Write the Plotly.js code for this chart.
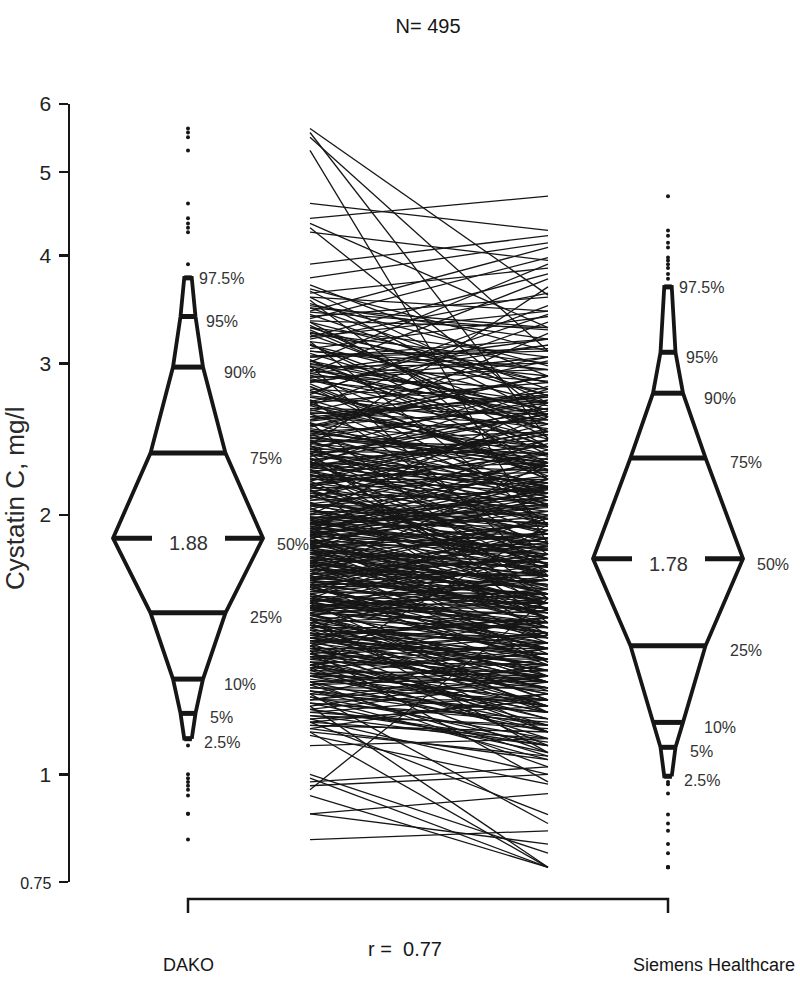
<!DOCTYPE html>
<html>
<head>
<meta charset="utf-8">
<script src="https://cdn.plot.ly/plotly-3.0.1.min.js"></script>
<style>
  html, body { margin: 0; padding: 0; background: #fff; }
  #chart { width: 800px; height: 988px; }
</style>
</head>
<body>
<div id="chart"></div>
<script>
// Paired cystatin C values (mg/l), one entry per subject (495), DAKO vs Siemens
const dako = [
  5.62, 5.56, 5.49, 5.30, 4.60, 4.42, 4.36, 4.31, 4.26, 3.91,
  3.77, 3.70, 3.62, 3.55, 3.50, 3.45, 3.42,
  3.38, 3.35, 3.30, 3.26, 3.22, 3.18, 3.15, 3.12, 3.08, 3.05, 3.03, 3.01, 3.00, 2.98, 2.97,
  3.66, 3.58, 3.48, 3.36, 3.28, 3.20, 3.10, 3.02, 2.94, 2.86,
  2.79, 2.71, 2.63, 2.54, 2.46, 3.64, 3.40, 3.16, 2.92, 2.68,
  3.52, 3.32, 3.06, 2.84, 2.60, 3.44, 3.24, 2.99, 2.77, 2.52,
  2.95, 2.93, 2.91, 2.89, 2.87, 2.85, 2.82, 2.80, 2.78, 2.76,
  2.74, 2.72, 2.70, 2.68, 2.66, 2.64, 2.62, 2.60, 2.58, 2.56,
  2.55, 2.53, 2.51, 2.50, 2.48, 2.47, 2.46, 2.45, 2.44, 2.43,
  2.42, 2.41, 2.40, 2.40, 2.39, 2.38, 2.38, 2.37, 2.37, 2.36,
  2.88, 2.70, 2.57, 2.49, 2.41,
  2.35, 2.34, 2.33, 2.32, 2.31, 2.30, 2.30, 2.29, 2.28, 2.27,
  2.26, 2.25, 2.25, 2.24, 2.23, 2.22, 2.21, 2.20, 2.20, 2.19,
  2.18, 2.17, 2.16, 2.15, 2.15, 2.14, 2.13, 2.12, 2.11, 2.10,
  2.10, 2.09, 2.08, 2.07, 2.06, 2.05, 2.05, 2.04, 2.03, 2.02,
  2.01, 2.00, 2.00, 1.99, 1.99, 1.98, 1.97, 1.97, 1.96, 1.95,
  1.95, 1.94, 1.94, 1.93, 1.93, 1.92, 1.92, 1.91, 1.91, 1.90,
  1.90, 1.90, 1.89, 1.89, 1.89, 1.88, 2.28, 2.17, 2.06, 1.98,
  2.33, 2.22, 2.12, 2.03, 1.96,
  1.87, 1.87, 1.86, 1.86, 1.85, 1.85, 1.84, 1.84, 1.83, 1.83,
  1.82, 1.81, 1.81, 1.80, 1.80, 1.79, 1.78, 1.78, 1.77, 1.76,
  1.76, 1.75, 1.74, 1.74, 1.73, 1.72, 1.72, 1.71, 1.70, 1.70,
  1.69, 1.68, 1.68, 1.67, 1.66, 1.66, 1.65, 1.64, 1.64, 1.63,
  1.62, 1.62, 1.61, 1.60, 1.60, 1.59, 1.59, 1.58, 1.58, 1.57,
  1.57, 1.56, 1.56, 1.56, 1.55, 1.55, 1.55, 1.54, 1.54, 1.54,
  1.87, 1.85, 1.83, 1.79, 1.75, 1.71, 1.67, 1.63, 1.60, 1.57,
  1.82, 1.77, 1.69, 1.65, 1.58,
  1.53, 1.53, 1.52, 1.51, 1.51, 1.50, 1.49, 1.49, 1.48, 1.47,
  1.46, 1.46, 1.45, 1.44, 1.44, 1.43, 1.42, 1.42, 1.41, 1.40,
  1.40, 1.39, 1.38, 1.38, 1.37, 1.36, 1.36, 1.35, 1.35, 1.34,
  1.34, 1.33, 1.33, 1.32, 1.32, 1.31, 1.31, 1.30, 1.30, 1.30,
  1.52, 1.47, 1.43, 1.39, 1.35,
  1.12, 1.15, 1.19, 1.22, 1.25, 1.28, 1.31, 1.34, 1.37, 1.41,
  1.45, 1.48, 1.16, 1.21, 1.27, 1.33, 1.39, 1.44, 1.50, 1.13,
  1.29, 1.28, 1.28, 1.27, 1.26, 1.25, 1.24, 1.24, 1.23, 1.22, 1.21, 1.20, 1.20, 1.19, 1.18,
  1.17, 1.16, 1.15, 1.14, 1.13, 1.12, 1.11,
  1.08, 1.00, 0.99, 0.98, 0.97, 0.96, 0.945, 0.90, 0.90, 0.84,
  2.02, 2.08, 2.14, 2.19, 2.24, 2.29, 2.34, 2.39, 2.44, 2.50,
  2.56, 2.62, 2.69, 2.75, 2.82, 2.90, 2.05, 2.11, 2.17, 2.23,
  2.31, 2.43, 2.58, 2.72, 2.86, 2.13, 2.27, 2.37, 2.47, 2.65,
  1.61, 1.63, 1.65, 1.67, 1.69, 1.71, 1.73, 1.75, 1.77, 1.79,
  1.81, 1.83, 1.85, 1.87, 1.89, 1.91, 1.93, 1.95, 1.97, 1.99,
  1.62, 1.66, 1.70, 1.74, 1.78, 1.82, 1.86, 1.90, 1.94, 1.98,
  1.64, 1.68, 1.72, 1.76, 1.80, 1.84, 1.88, 1.92, 1.96, 1.60,
  1.31, 1.33, 1.35, 1.37, 1.39, 1.41, 1.43, 1.45, 1.47, 1.49,
  1.51, 1.53, 1.55, 1.57, 1.59, 1.32, 1.36, 1.40, 1.44, 1.48,
  1.52, 1.56, 1.34, 1.38, 1.42, 1.46, 1.50, 1.54, 1.58, 1.30,
  1.37, 1.43, 1.49, 1.55, 1.61,
  1.15, 1.18, 1.21, 1.24, 1.27, 2.95, 3.05, 3.15, 3.25, 3.35,
  3.48, 3.58, 1.17, 1.23, 1.26, 2.98, 3.10, 3.22, 3.30, 1.19,
  1.25, 2.92, 3.02, 3.18, 1.14, 1.22,
  2.26, 2.36, 2.46, 2.54, 1.84, 1.76, 1.68, 2.16, 2.06, 1.96
];
const siemens = [
  3.60, 2.45, 3.10, 1.85, 4.28, 4.69, 3.30, 2.60, 3.95, 4.22,
  4.14, 2.90, 3.87, 2.20, 3.20, 4.09, 2.75,
  3.98, 2.40, 3.05, 2.85, 3.81, 1.95, 2.70, 3.40, 2.55, 3.10, 2.30, 3.91, 2.65, 1.70, 3.00,
  3.10, 3.45, 2.80, 3.30, 2.50, 3.62, 2.95, 2.40, 3.20, 2.68,
  2.25, 3.05, 2.55, 2.90, 2.15, 2.70, 3.58, 2.35, 2.62, 3.35,
  2.98, 2.46, 3.12, 2.20, 2.76, 3.28, 2.58, 2.86, 3.42, 2.30,
  2.60, 3.76, 2.20, 2.95, 2.45, 3.15, 2.05, 2.70, 2.38, 3.50,
  2.52, 1.80, 2.85, 2.30, 2.62, 3.02, 2.15, 2.48, 2.78, 1.60,
  2.40, 2.90, 2.25, 2.58, 2.10, 3.25, 2.35, 2.72, 1.98, 2.50,
  2.28, 3.68, 2.18, 2.64, 1.90, 2.44, 2.82, 2.12, 2.36, 1.50,
  2.55, 2.05, 2.75, 2.32, 1.75,
  2.10, 2.62, 1.85, 2.40, 1.72, 2.25, 2.05, 2.80, 1.95, 2.15,
  1.60, 2.30, 2.00, 2.48, 1.78, 2.12, 1.90, 2.55, 2.20, 1.68,
  2.02, 2.35, 1.82, 2.18, 1.98, 1.45, 2.28, 2.08, 1.75, 2.42,
  1.92, 2.60, 2.14, 1.70, 2.22, 1.88, 2.05, 1.58, 2.38, 2.00,
  1.84, 2.16, 2.70, 1.65, 1.96, 2.26, 1.80, 2.10, 1.52, 2.33,
  1.94, 2.06, 1.76, 2.45, 1.86, 2.20, 1.62, 1.99, 2.30, 1.74,
  2.08, 1.90, 1.35, 2.18, 1.83, 2.02, 2.50, 1.70, 1.95, 2.12,
  1.55, 2.24, 1.87, 1.78, 2.04,
  1.80, 1.55, 2.05, 1.72, 1.62, 1.95, 1.48, 1.85, 1.70, 2.20,
  1.58, 1.76, 1.42, 1.90, 1.66, 1.52, 2.10, 1.74, 1.60, 1.38,
  1.82, 1.68, 1.50, 1.98, 1.64, 1.78, 1.44, 1.70, 2.30, 1.56,
  1.62, 1.88, 1.46, 1.72, 1.54, 1.30, 1.66, 1.92, 1.48, 1.60,
  1.75, 1.40, 1.58, 2.00, 1.52, 1.68, 1.36, 1.84, 1.50, 1.62,
  1.28, 1.72, 1.46, 1.56, 1.80, 1.42, 1.64, 1.50, 1.25, 1.70,
  1.58, 2.15, 1.44, 1.66, 1.54, 1.78, 1.34, 1.62, 1.48, 1.58,
  1.70, 1.52, 1.86, 1.40, 1.18,
  1.40, 1.62, 1.30, 1.48, 1.22, 1.55, 1.36, 1.28, 1.75, 1.42,
  1.18, 1.38, 1.50, 1.26, 1.34, 1.45, 1.12, 1.32, 1.58, 1.24,
  1.40, 1.30, 1.46, 1.16, 1.36, 1.28, 1.52, 1.20, 1.34, 1.42,
  1.10, 1.26, 1.38, 1.30, 1.95, 1.22, 1.32, 1.14, 1.40, 1.28,
  1.06, 1.44, 1.20, 0.98, 1.34,
  1.05, 1.22, 1.09, 1.30, 1.14, 1.02, 1.25, 1.18, 1.45, 1.08,
  1.32, 1.20, 1.00, 1.16, 1.36, 1.06, 1.28, 1.52, 1.12, 1.24,
  1.20, 1.32, 1.12, 1.05, 1.26, 1.18, 0.877, 1.40, 1.10, 1.22, 1.15, 0.78, 1.30, 1.08, 1.13,
  1.08, 1.20, 0.898, 1.12, 1.04, 0.78, 0.974,
  1.10, 0.81, 0.78, 1.02, 1.00, 1.60, 0.78, 0.83, 0.95, 0.86,
  1.88, 2.30, 1.75, 2.52, 2.05, 2.18, 2.66, 1.95, 2.40, 2.28,
  2.12, 2.74, 2.35, 2.58, 2.22, 2.80, 2.15, 1.70, 2.44, 1.98,
  2.62, 2.08, 2.90, 2.26, 3.05, 1.82, 2.50, 2.16, 2.70, 2.34,
  1.50, 1.78, 1.44, 1.62, 1.92, 1.56, 1.70, 1.35, 1.84, 1.66,
  1.58, 1.96, 1.72, 1.48, 2.10, 1.80, 1.64, 2.02, 1.74, 1.86,
  1.40, 1.68, 1.54, 1.88, 1.60, 1.76, 2.06, 1.52, 1.82, 1.70,
  1.46, 1.58, 1.98, 1.64, 1.74, 1.90, 1.62, 2.14, 1.78, 1.42,
  1.22, 1.38, 1.16, 1.30, 1.46, 1.26, 1.34, 1.52, 1.20, 1.40,
  1.60, 1.32, 1.44, 1.28, 1.56, 1.12, 1.42, 1.24, 1.36, 1.48,
  1.30, 1.64, 1.18, 1.26, 1.50, 1.34, 1.40, 1.22, 1.46, 1.20,
  1.14, 1.38, 1.28, 1.54, 1.36,
  1.10, 1.24, 1.06, 1.18, 1.30, 2.70, 3.20, 2.50, 3.00, 2.85,
  3.30, 2.60, 1.14, 1.04, 1.22, 2.40, 2.90, 3.45, 2.75, 1.28,
  1.08, 3.15, 2.65, 2.95, 1.12, 1.34,
  2.48, 2.06, 2.30, 2.66, 1.90, 1.58, 1.80, 2.36, 1.92, 2.12
];

// Percentiles shown on the kite plots
const pctLevels = [2.5, 5, 10, 25, 50, 75, 90, 95, 97.5];
const pctLabels = ['2.5%', '5%', '10%', '25%', '50%', '75%', '90%', '95%', '97.5%'];
const dakoPct = [1.10, 1.177, 1.29, 1.54, 1.88, 2.36, 2.97, 3.40, 3.77];
const siemensPct = [0.995, 1.075, 1.149, 1.41, 1.78, 2.33, 2.77, 3.09, 3.68];
const medianLabels = ['1.88', '1.78'];
const groupNames = ['DAKO', 'Siemens Healthcare'];
const nTotal = 495;
const rValue = 0.77;

// Layout constants (x axis is in page pixels)
const FONT = '"Liberation Sans", Arial, Helvetica, sans-serif';
const INK = '#161616';
const groupX = [188, 668];
const pairX = [310, 548];
const maxHalfWidth = 75;
const labelOffset = [14, 20, 34, 60, 87, 60, 34, 16, 9];
const labelShift = [-4, -4, -5, -5, -6, -5, -5, -5, -1];

function halfWidth(p) {
  return 2 * maxHalfWidth * Math.min(p, 100 - p) / 100;
}

// Lines connecting each subject's pair of values
function pairTrace() {
  const x = [], y = [];
  const n = Math.min(dako.length, siemens.length);
  for (let i = 0; i < n; i++) {
    x.push(pairX[0], pairX[1], null);
    y.push(dako[i], siemens[i], null);
  }
  return {
    x, y, type: 'scatter', mode: 'lines',
    line: { color: INK, width: 1.3 }, hoverinfo: 'skip', cliponaxis: false
  };
}

// Kite outline, percentile bars and outlying points for one method
function kiteTraces(cx, pct, values) {
  const ox = [], oy = [];
  pctLevels.forEach((p, i) => { ox.push(cx + halfWidth(p)); oy.push(pct[i]); });
  for (let i = pctLevels.length - 1; i >= 0; i--) {
    ox.push(cx - halfWidth(pctLevels[i])); oy.push(pct[i]);
  }
  ox.push(ox[0]); oy.push(oy[0]);

  const bx = [], by = [];
  pctLevels.forEach((p, i) => {
    if (p === 50) return;
    const w = halfWidth(p);
    bx.push(cx - w, cx + w, null);
    by.push(pct[i], pct[i], null);
  });
  const mx = [cx - maxHalfWidth, cx - 36, null, cx + 37, cx + maxHalfWidth, null];
  const my = [pct[4], pct[4], null, pct[4], pct[4], null];

  const lo = pct[0], hi = pct[pct.length - 1];
  const out = values.filter(v => v < lo || v > hi);

  return [
    { x: ox, y: oy, type: 'scatter', mode: 'lines', line: { color: INK, width: 3.8 },
      hoverinfo: 'skip', cliponaxis: false },
    { x: bx.concat(mx), y: by.concat(my), type: 'scatter', mode: 'lines',
      line: { color: INK, width: 5 }, hoverinfo: 'skip', cliponaxis: false },
    { x: out.map(() => cx), y: out, type: 'scatter', mode: 'markers',
      marker: { color: INK, size: 4 }, hoverinfo: 'skip', cliponaxis: false }
  ];
}

const traces = [pairTrace()]
  .concat(kiteTraces(groupX[0], dakoPct, dako))
  .concat(kiteTraces(groupX[1], siemensPct, siemens));

// Text around the kites
const annotations = [];
[dakoPct, siemensPct].forEach((pct, g) => {
  pctLevels.forEach((p, i) => {
    annotations.push({
      x: groupX[g] + labelOffset[i], y: Math.log10(pct[i]), xref: 'x', yref: 'y',
      text: pctLabels[i], showarrow: false, xanchor: 'left', yanchor: 'middle',
      yshift: labelShift[i], font: { family: FONT, size: 16, color: '#333' }
    });
  });
  annotations.push({
    x: groupX[g], y: Math.log10(pct[4]), xref: 'x', yref: 'y', text: medianLabels[g],
    showarrow: false, xanchor: 'center', yanchor: 'middle', yshift: -5,
    font: { family: FONT, size: 20, color: '#333' }
  });
});

const plotTop = 104, plotBottom = 882, plotLeft = 70, plotWidth = 730;
const paperY = px => (plotBottom - px) / (plotBottom - plotTop);
const paperX = px => (px - plotLeft) / plotWidth;

annotations.push(
  { x: groupX[0], y: paperY(965), xref: 'x', yref: 'paper', text: groupNames[0],
    showarrow: false, xanchor: 'center', yanchor: 'middle',
    font: { family: FONT, size: 18, color: INK } },
  { x: 714, y: paperY(965), xref: 'x', yref: 'paper', text: groupNames[1],
    showarrow: false, xanchor: 'center', yanchor: 'middle',
    font: { family: FONT, size: 18, color: INK } },
  { x: 405, y: paperY(949), xref: 'x', yref: 'paper', text: 'r =  ' + rValue.toFixed(2),
    showarrow: false, xanchor: 'center', yanchor: 'middle',
    font: { family: FONT, size: 20, color: INK } },
  { x: paperX(15), y: paperY(498), xref: 'paper', yref: 'paper', text: 'Cystatin C, mg/l',
    showarrow: false, textangle: -90, xanchor: 'center', yanchor: 'middle',
    font: { family: FONT, size: 26, color: '#2a2a2a' } }
);

// Bracket joining the two methods
const shapes = [{
  type: 'path', xref: 'x', yref: 'paper',
  path: `M ${groupX[0]} ${paperY(913)} L ${groupX[0]} ${paperY(899)} L ${groupX[1]} ${paperY(899)} L ${groupX[1]} ${paperY(913)}`,
  line: { color: INK, width: 2.5 }
}];

const layout = {
  width: 800, height: 988,
  margin: { l: plotLeft, r: 0, t: plotTop, b: 988 - plotBottom, pad: 0 },
  paper_bgcolor: '#fff', plot_bgcolor: '#fff',
  showlegend: false, hovermode: false,
  title: {
    text: 'N= ' + nTotal, x: 428 / 800, xanchor: 'center', xref: 'container',
    y: 1 - 26 / 988, yanchor: 'middle', yref: 'container',
    font: { family: FONT, size: 20, color: INK }
  },
  xaxis: { range: [plotLeft, plotLeft + plotWidth], visible: false, fixedrange: true },
  yaxis: {
    type: 'log', range: [Math.log10(0.75), Math.log10(6)],
    tickvals: [0.75, 1, 2, 3, 4, 5, 6],
    ticktext: ['<span style="font-size:16px">0.75</span>', '1', '2', '3', '4', '5', '6'],
    ticks: 'outside', ticklen: 9, tickwidth: 2.5, tickcolor: INK,
    showline: true, linewidth: 2.5, linecolor: INK,
    showgrid: false, zeroline: false, fixedrange: true,
    ticklabelstandoff: 3,
    tickfont: { family: FONT, size: 21, color: '#222' }
  },
  annotations, shapes
};

Plotly.newPlot('chart', traces, layout, { displayModeBar: false, staticPlot: true });
</script>
</body>
</html>
